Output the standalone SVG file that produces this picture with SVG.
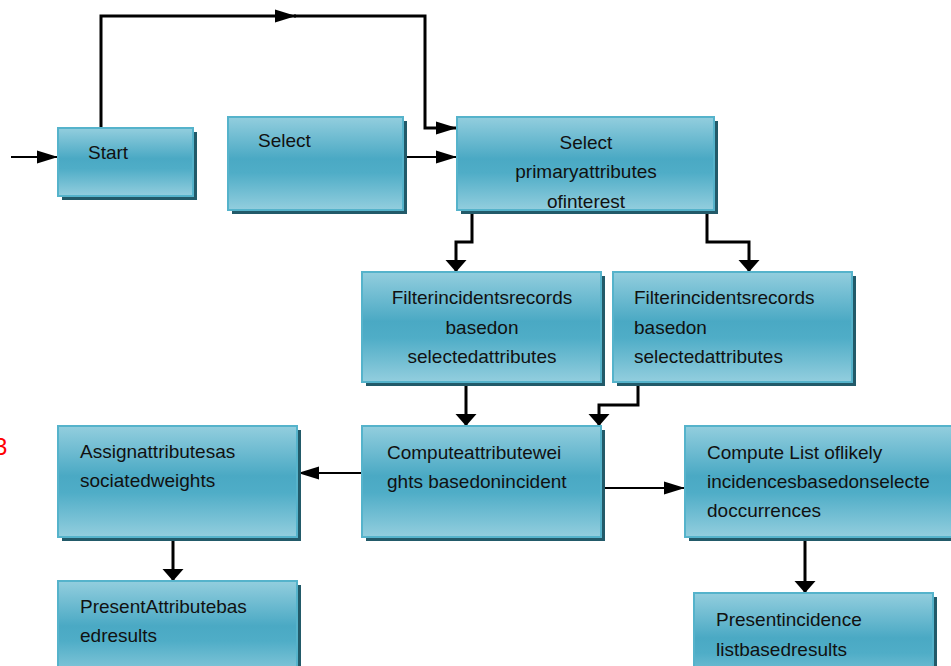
<svg xmlns="http://www.w3.org/2000/svg" width="951" height="666" viewBox="0 0 951 666">
<style>
.box{fill:url(#g);stroke:#55b3cb;stroke-width:2}
.sh{fill:#225a69}
.t{font-family:"Liberation Sans",Arial,sans-serif;font-size:19px;fill:#111}
.c{text-anchor:middle}
.thick{fill:none;stroke:#000;stroke-width:3}
.thin{fill:none;stroke:#000;stroke-width:2}
</style>
<defs>
<linearGradient id="g" x1="0" y1="0" x2="0" y2="1">
<stop offset="0" stop-color="#93cede"/>
<stop offset="0.45" stop-color="#4aa9c4"/>
<stop offset="0.6" stop-color="#4fadc7"/>
<stop offset="1" stop-color="#93cede"/>
</linearGradient>
<marker id="side" markerUnits="userSpaceOnUse" markerWidth="22" markerHeight="14" refX="21" refY="6.5" orient="auto" overflow="visible">
<path d="M0,0 L21,6.5 L0,13 z" fill="#000"/>
</marker>
<marker id="down" markerUnits="userSpaceOnUse" markerWidth="13" markerHeight="22" refX="12" refY="10.5" orient="auto" overflow="visible">
<path d="M0,0 L12,10.5 L0,21 z" fill="#000"/>
</marker>
</defs>
<rect width="951" height="666" fill="#fff"/>
<text x="-6" y="455" font-family="Liberation Sans,Arial,sans-serif" font-size="24" fill="#ff0000">3</text>

<g id="connectors">
<path class="thin" d="M11,157 L58,157" marker-end="url(#side)"/>
<path class="thick" d="M101,128 L101,16 L296,16" marker-end="url(#side)"/>
<path class="thick" d="M294,16 L425,16 L425,128 L457,128" marker-end="url(#side)"/>
<path class="thin" d="M401,157 L457,157" marker-end="url(#side)"/>
<path class="thick" d="M472,212 L472,242 L456,242 L456,272" marker-end="url(#down)"/>
<path class="thick" d="M707,212 L707,242 L749,242 L749,272" marker-end="url(#down)"/>
<path class="thick" d="M466,384 L466,426" marker-end="url(#down)"/>
<path class="thick" d="M638,384 L638,405 L599,405 L599,426" marker-end="url(#down)"/>
<path class="thin" d="M362,473 L298,473" marker-end="url(#side)"/>
<path class="thin" d="M603,488 L685,488" marker-end="url(#side)"/>
<path class="thick" d="M173,539 L173,581" marker-end="url(#down)"/>
<path class="thick" d="M805,539 L805,593" marker-end="url(#down)"/>
</g>

<g id="start">
<rect class="sh" x="62" y="132" width="135" height="68"/>
<rect class="box" x="58" y="128" width="135" height="68"/>
<text class="t" x="88" y="159">Start</text>
</g>
<g id="select">
<rect class="sh" x="232" y="121" width="175" height="93"/>
<rect class="box" x="228" y="117" width="175" height="93"/>
<text class="t" x="258" y="147">Select</text>
</g>
<g id="primary">
<rect class="sh" x="461" y="121" width="257" height="93"/>
<rect class="box" x="457" y="117" width="257" height="93"/>
<text class="t c" x="586" y="149">Select</text>
<text class="t c" x="586" y="178">primaryattributes</text>
<text class="t c" x="586" y="208">ofinterest</text>
</g>
<g id="filter1">
<rect class="sh" x="366" y="276" width="239" height="110"/>
<rect class="box" x="362" y="272" width="239" height="110"/>
<text class="t c" x="482" y="304">Filterincidentsrecords</text>
<text class="t c" x="482" y="334">basedon</text>
<text class="t c" x="482" y="363">selectedattributes</text>
</g>
<g id="filter2">
<rect class="sh" x="617" y="276" width="239" height="110"/>
<rect class="box" x="613" y="272" width="239" height="110"/>
<text class="t" x="634" y="304">Filterincidentsrecords</text>
<text class="t" x="634" y="334">basedon</text>
<text class="t" x="634" y="363">selectedattributes</text>
</g>
<g id="assign">
<rect class="sh" x="62" y="430" width="239" height="111"/>
<rect class="box" x="58" y="426" width="239" height="111"/>
<text class="t" x="80" y="458">Assignattributesas</text>
<text class="t" x="80" y="487">sociatedweights</text>
</g>
<g id="compute">
<rect class="sh" x="366" y="430" width="239" height="111"/>
<rect class="box" x="362" y="426" width="239" height="111"/>
<text class="t" x="387" y="459">Computeattributewei</text>
<text class="t" x="387" y="488">ghts basedonincident</text>
</g>
<g id="computelist">
<rect class="sh" x="689" y="430" width="280" height="111"/>
<rect class="box" x="685" y="426" width="280" height="111"/>
<text class="t" x="707" y="459">Compute List oflikely</text>
<text class="t" x="707" y="488">incidencesbasedonselecte</text>
<text class="t" x="707" y="517">doccurrences</text>
</g>
<g id="presentattr">
<rect class="sh" x="62" y="585" width="239" height="100"/>
<rect class="box" x="58" y="581" width="239" height="100"/>
<text class="t" x="80" y="613">PresentAttributebas</text>
<text class="t" x="80" y="642">edresults</text>
</g>
<g id="presentinc">
<rect class="sh" x="698" y="597" width="239" height="100"/>
<rect class="box" x="694" y="593" width="239" height="100"/>
<text class="t" x="716" y="626">Presentincidence</text>
<text class="t" x="716" y="656">listbasedresults</text>
</g>
</svg>
